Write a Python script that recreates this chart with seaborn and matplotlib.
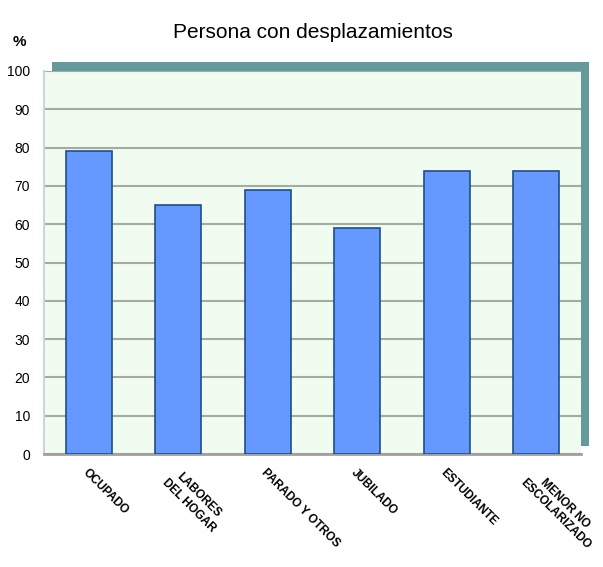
# Persona con desplazamientos - bar chart
import pandas as pd
import matplotlib.pyplot as plt
import seaborn as sns
from matplotlib.patches import Rectangle

# Data
categorias = ['OCUPADO', 'LABORES\nDEL HOGAR', 'PARADO Y OTROS',
              'JUBILADO', 'ESTUDIANTE', 'MENOR NO\nESCOLARIZADO']
porcentajes = [79, 65, 69, 59, 74, 74]
y_ticks = [0, 10, 20, 30, 40, 50, 60, 70, 80, 90, 100]

df = pd.DataFrame({'categoria': categorias, 'valor': porcentajes})

sns.set_style('white')
plt.rcParams['font.family'] = ['Liberation Sans', 'DejaVu Sans']
plt.rcParams['text.color'] = 'black'
plt.rcParams['xtick.color'] = 'black'
plt.rcParams['ytick.color'] = 'black'

fig = plt.figure(figsize=(6.03, 5.67), dpi=100)

# teal "wall" shadow behind the plot area
W, H = 603, 567
fig.patches.append(Rectangle((52 / W, (H - 446) / H), 537 / W, 384 / H,
                             transform=fig.transFigure, facecolor='#669999',
                             edgecolor='none', zorder=0))

ax = fig.add_axes([44 / W, (H - 454) / H, 537 / W, 383 / H])
ax.set_facecolor('#F1FCF1')
ax.set_zorder(1)

sns.barplot(data=df, x='categoria', y='valor', ax=ax, color='#6699FF',
            saturation=1, width=0.51, edgecolor='#1F4E86', linewidth=1.2,
            zorder=3)

ax.set_ylim(0, 100)
ax.set_yticks(y_ticks)
ax.yaxis.grid(True, color='#A3ABA3', linewidth=1.5, zorder=0)
ax.set_axisbelow(True)
ax.tick_params(axis='y', length=0, labelsize=10, pad=10)
ax.tick_params(axis='x', length=0, pad=9)

ax.set_xlabel('')
ax.set_ylabel('')
ax.set_xticks(range(len(categorias)))
ax.set_xticklabels(categorias, rotation=-45, ha='left', va='top',
                   rotation_mode='anchor', fontsize=8.5, fontweight='bold',
                   multialignment='center')

for side in ['top', 'right']:
    ax.spines[side].set_visible(False)
ax.spines['left'].set_color('#C8D8D8')
ax.spines['left'].set_linewidth(1.5)
ax.spines['bottom'].set_color('#A0A0A0')
ax.spines['bottom'].set_linewidth(2)

fig.text(313 / W, 1 - 33 / H, 'Persona con desplazamientos',
         ha='center', va='center', fontsize=15)
fig.text(19 / W, 1 - 42 / H, '%', ha='center', va='center',
         fontsize=11, fontweight='bold')

fig.savefig('out.png', dpi=100)
